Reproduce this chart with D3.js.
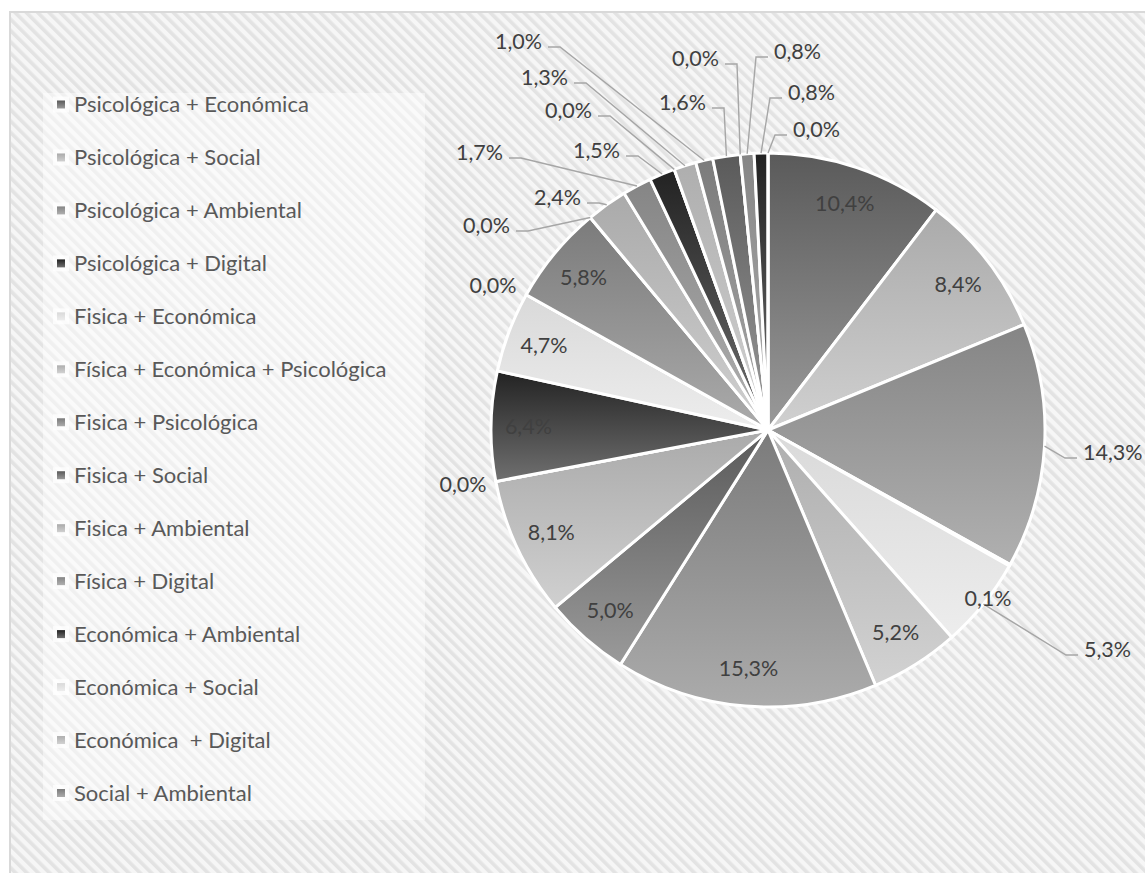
<!DOCTYPE html>
<html>
<head>
<meta charset="utf-8">
<script src="https://cdn.jsdelivr.net/npm/d3@7"></script>
<style>
body { margin: 0; background: #fff; }
svg text { font-family: Lato, "Open Sans", sans-serif; }
</style>
</head>
<body>
<div id="chart"></div>
<script>
// categories shown in the legend (the original legend stops after 14)
var categories = [
    "Psicológica + Económica",
    "Psicológica + Social",
    "Psicológica + Ambiental",
    "Psicológica + Digital",
    "Fisica + Económica",
    "Física + Económica + Psicológica",
    "Fisica + Psicológica",
    "Fisica + Social",
    "Fisica + Ambiental",
    "Física + Digital",
    "Económica + Ambiental",
    "Económica + Social",
    "Económica  + Digital",
    "Social + Ambiental"
];

// slice values in %, clockwise from 12 o'clock
var values = [10.4, 8.4, 14.3, 0.1, 5.3, 5.2, 15.3, 5.0, 8.1, 0.0, 6.4, 4.7, 0.0,
              5.8, 0.0, 2.4, 1.7, 1.5, 0.0, 1.3, 1.0, 1.6, 0.0, 0.8, 0.8, 0.0];

// monochrome palette (top, bottom of gradient), repeats every 7 slices
var palette = [
    ["#5a5a5a", "#9a9a9a"],
    ["#aaaaaa", "#d0d0d0"],
    ["#858585", "#b0b0b0"],
    ["#222222", "#707070"],
    ["#d9d9d9", "#ededed"],
    ["#aeaeae", "#d2d2d2"],
    ["#7b7b7b", "#ababab"]
];

var width = 1145, height = 873;
var cx = 768, cy = 430, R = 277;

// label layout: [x, y, side] of the leader end next to the text, relative to the pie centre
var leaderSpots = {
    2: [309, 28, 1], 4: [310, 225, 1],
    14: [-252, -199, -1], 15: [-181, -227, -1], 16: [-259, -272, -1],
    17: [-142, -274, -1], 18: [-170, -314, -1], 19: [-194, -347, -1],
    20: [-220, -383, -1], 21: [-56, -322, -1], 22: [-43, -366, -1],
    23: [0, -373, 1], 24: [14, -332, 1], 25: [19, -295, 1]
};
// labels placed by themselves, without leader
var freeSpots = { 3: [220, 168], 9: [-305, 54], 12: [-275, -145] };

var fmt = function(v) { return v.toFixed(1).replace(".", ",") + "%"; };

var svg = d3.select("#chart").append("svg")
    .attr("width", width)
    .attr("height", height);

var defs = svg.append("defs");

// diagonal stripes of the chart area
var pat = defs.append("pattern")
    .attr("id", "stripes")
    .attr("patternUnits", "userSpaceOnUse")
    .attr("width", 8).attr("height", 8)
    .attr("patternTransform", "rotate(-45)");
pat.append("rect").attr("width", 8).attr("height", 8).attr("fill", "#f6f6f6");
pat.append("rect").attr("width", 3.6).attr("height", 8).attr("fill", "#e3e3e3");

palette.forEach(function(p, i) {
    var g = defs.append("linearGradient")
        .attr("id", "grad" + i)
        .attr("x1", 0).attr("y1", 0).attr("x2", 0).attr("y2", 1);
    g.append("stop").attr("offset", "0%").attr("stop-color", p[0]);
    g.append("stop").attr("offset", "100%").attr("stop-color", p[1]);
});

var fillFor = function(i) { return "url(#grad" + (i % palette.length) + ")"; };

// chart area
svg.append("rect")
    .attr("x", 10).attr("y", 12)
    .attr("width", width + 10).attr("height", height + 10)
    .attr("fill", "url(#stripes)")
    .attr("stroke", "#d9d9d9")
    .attr("stroke-width", 2);

// legend
var legend = svg.append("g");
legend.append("rect")
    .attr("x", 43).attr("y", 93)
    .attr("width", 382).attr("height", 727)
    .attr("fill", "#ffffff")
    .attr("opacity", 0.45);

var ly = d3.scalePoint()
    .domain(categories)
    .range([104.5, 793]);

var item = legend.selectAll("g.item")
    .data(categories)
    .enter().append("g")
    .attr("class", "item")
    .attr("transform", function(d) { return "translate(0," + ly(d) + ")"; });

item.append("rect")
    .attr("x", 53).attr("y", -8)
    .attr("width", 16).attr("height", 16)
    .attr("fill", "#ffffff")
    .attr("opacity", 0.7);
item.append("rect")
    .attr("x", 57).attr("y", -4)
    .attr("width", 8).attr("height", 8)
    .attr("fill", function(d, i) { return fillFor(i); });
item.append("text")
    .attr("x", 74)
    .attr("dy", "0.35em")
    .attr("font-size", 22)
    .attr("fill", "#595959")
    .attr("xml:space", "preserve")
    .text(function(d) { return d; });

// pie
var pie = d3.pie().sort(null).value(function(d) { return d; });
var arcs = pie(values);

var arc = d3.arc().innerRadius(0).outerRadius(R);
var labelArc = d3.arc().innerRadius(R * 0.865).outerRadius(R * 0.865);
var edgeArc = d3.arc().innerRadius(R).outerRadius(R);

var g = svg.append("g").attr("transform", "translate(" + cx + "," + cy + ")");

g.selectAll("path.slice")
    .data(arcs)
    .enter().append("path")
    .attr("class", "slice")
    .attr("d", arc)
    .attr("fill", function(d, i) { return fillFor(i); })
    .attr("stroke", "#ffffff")
    .attr("stroke-width", 3)
    .attr("stroke-linejoin", "round");

// leader lines
var leaders = arcs.filter(function(d, i) { return leaderSpots[i]; });
g.selectAll("path.leader")
    .data(leaders)
    .enter().append("path")
    .attr("class", "leader")
    .attr("fill", "none")
    .attr("stroke", "#a6a6a6")
    .attr("stroke-width", 1.4)
    .attr("d", function(d) {
        var s = leaderSpots[d.index];
        var p = edgeArc.centroid(d);
        var e = [s[0] - s[2] * 12, s[1]];
        return "M" + p + "L" + e + "L" + [s[0], s[1]];
    });

// labels
g.selectAll("text.lbl")
    .data(arcs)
    .enter().append("text")
    .attr("class", "lbl")
    .attr("font-size", 21.5)
    .attr("fill", "#404040")
    .attr("dy", "0.35em")
    .each(function(d) {
        var t = d3.select(this);
        var i = d.index;
        if (leaderSpots[i]) {
            var s = leaderSpots[i];
            t.attr("x", s[0] + s[2] * 6)
             .attr("y", s[1] - 6)
             .attr("text-anchor", s[2] > 0 ? "start" : "end");
        } else if (freeSpots[i]) {
            t.attr("x", freeSpots[i][0])
             .attr("y", freeSpots[i][1])
             .attr("text-anchor", "middle");
        } else {
            var c = labelArc.centroid(d);
            t.attr("x", c[0]).attr("y", c[1]).attr("text-anchor", "middle");
        }
    })
    .text(function(d) { return fmt(d.data); });
</script>
</body>
</html>
